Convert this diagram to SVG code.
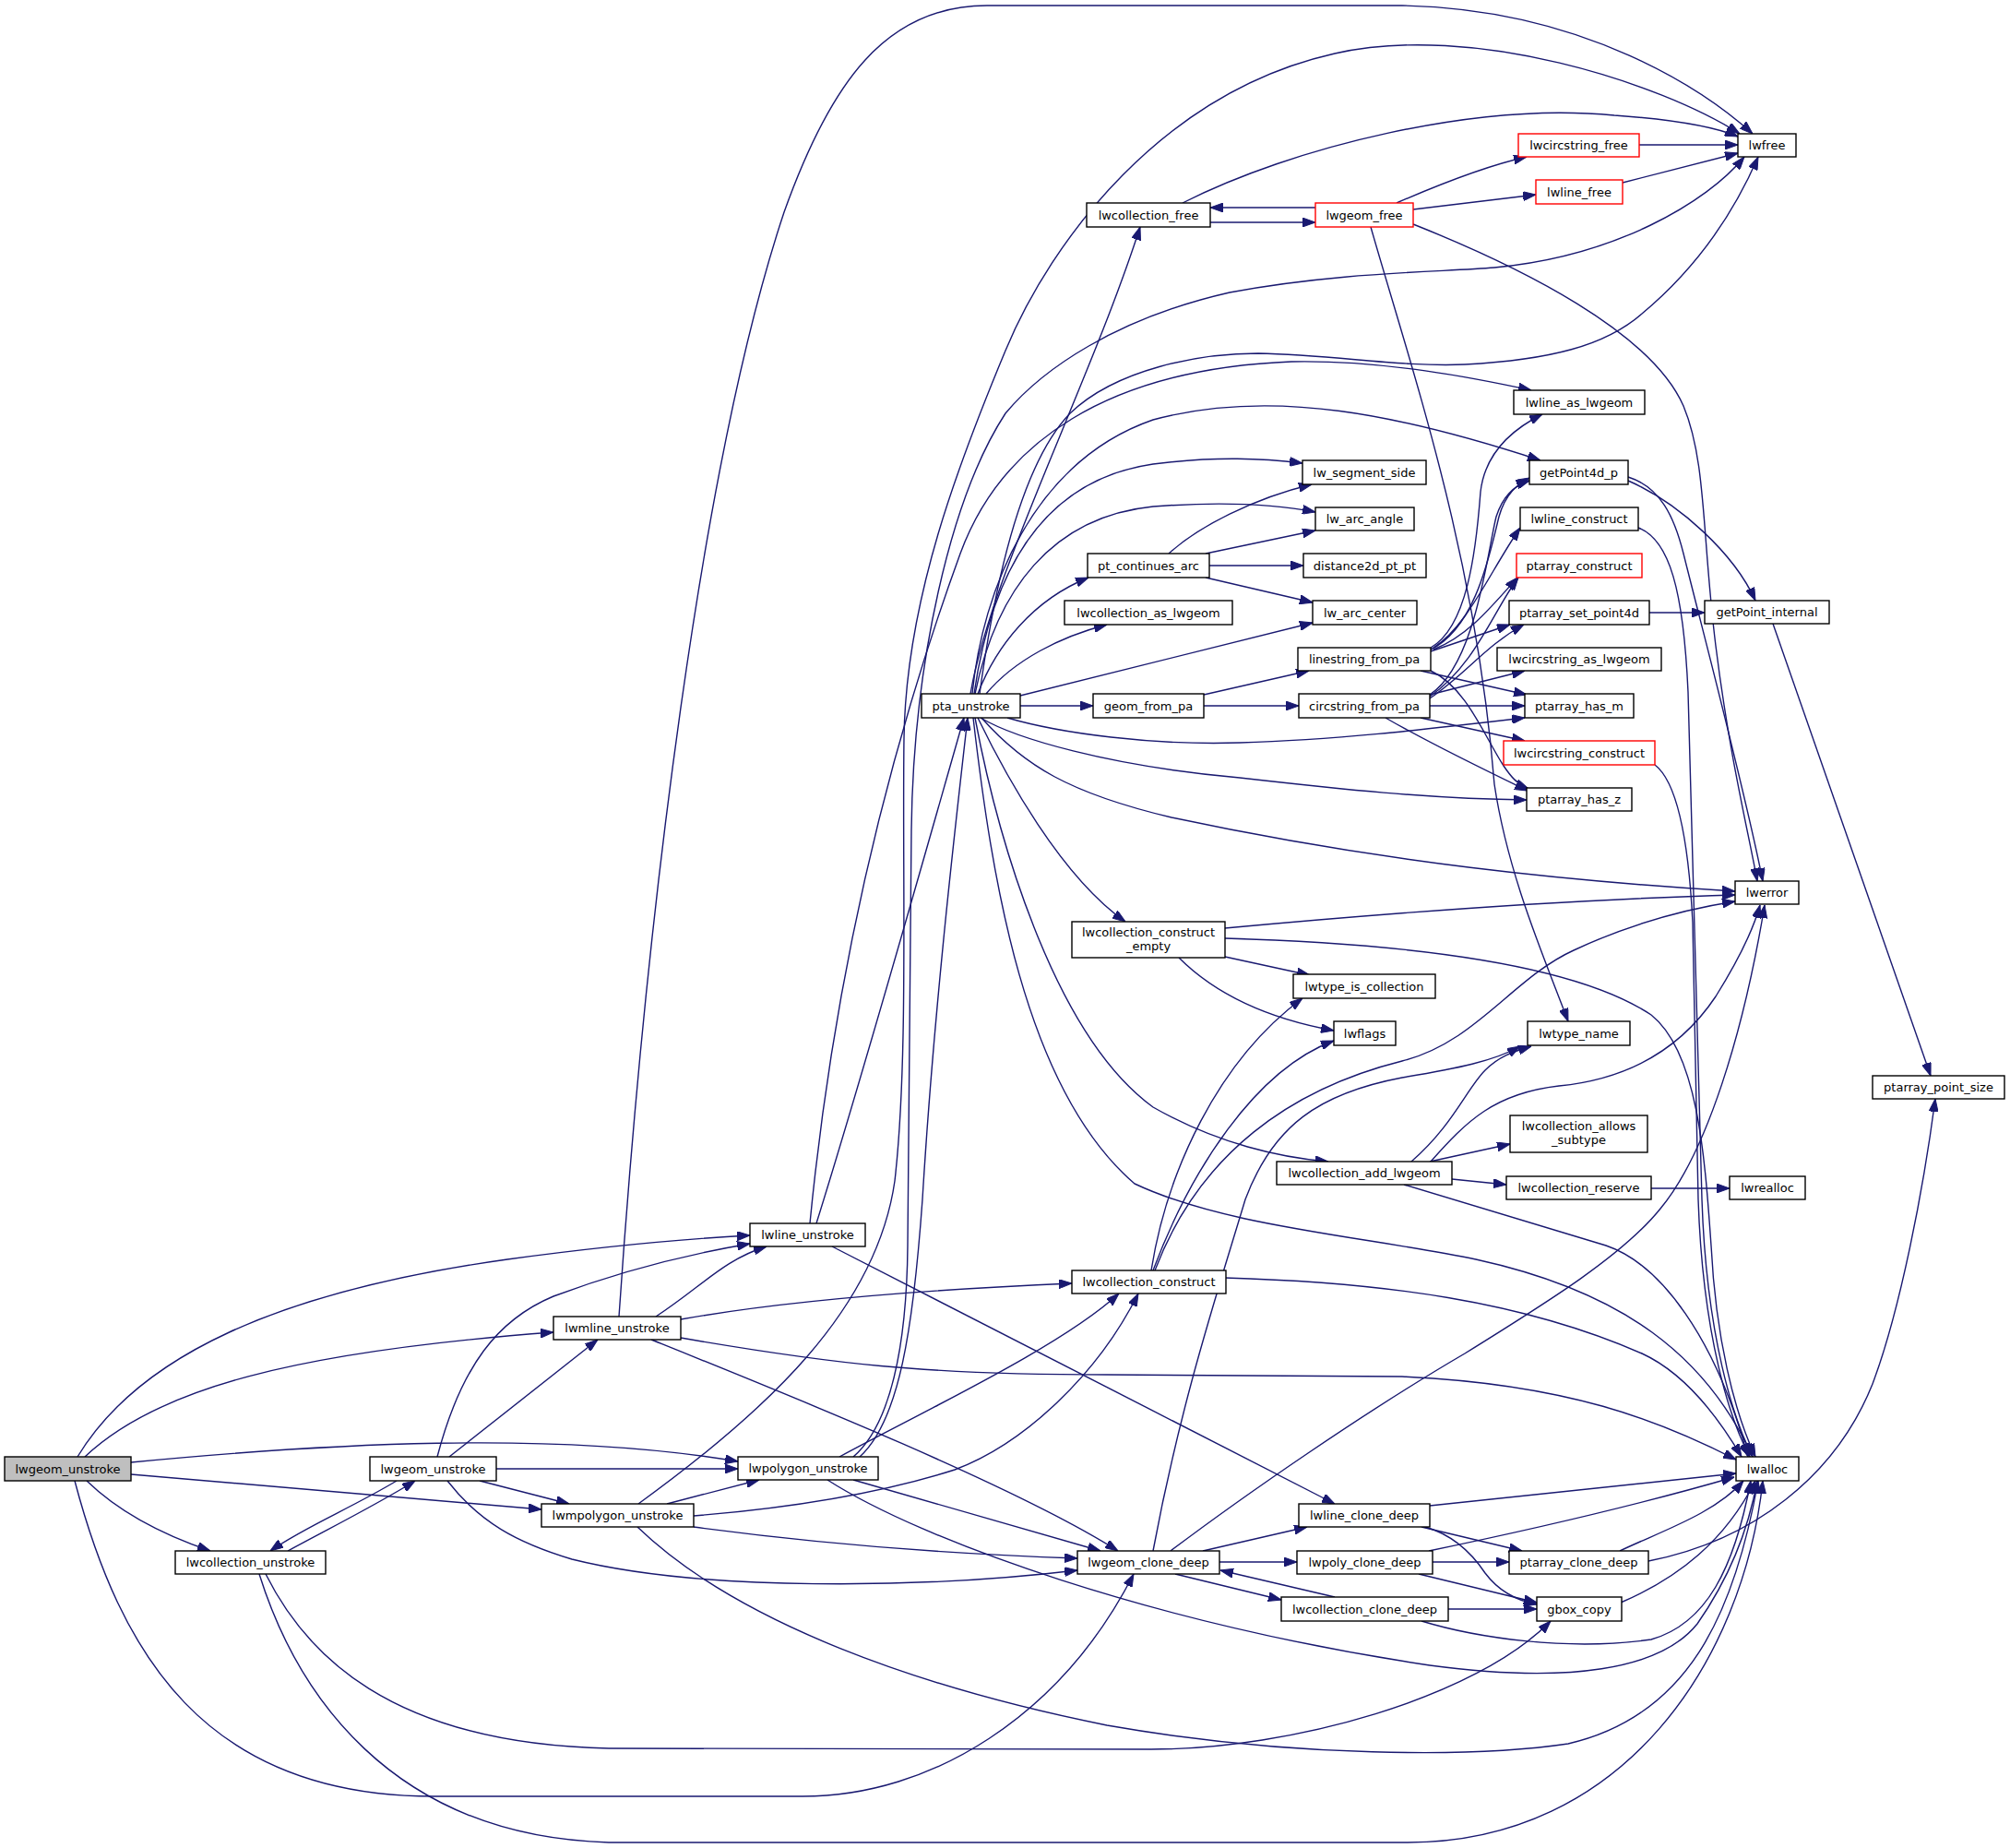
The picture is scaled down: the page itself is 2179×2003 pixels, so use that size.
<svg xmlns="http://www.w3.org/2000/svg" width="2179" height="2003" viewBox="0 0 2179 2003">
<style>
.n rect{fill:#fff;stroke:#000;stroke-width:1.4}
.n.red rect{stroke:#ff0000}
.n.root rect{fill:#bfbfbf}
.n text{font-family:"DejaVu Sans","Liberation Sans",sans-serif;font-size:13px;text-anchor:middle;fill:#000}
#edges path{fill:none;stroke:#191970;stroke-width:1.4;marker-end:url(#a)}
</style>
<defs>
<marker id="a" markerUnits="userSpaceOnUse" markerWidth="14" markerHeight="10" refX="14" refY="5" orient="auto"><path d="M0,0 L14,5 L0,10 z" fill="#191970" stroke="#191970" stroke-width="1"/></marker>
</defs>
<rect width="2179" height="2003" fill="#fff"/>
<g id="edges">
<path d="M84,1579 C150,1470 300,1400 550,1365 C660,1350 740,1343 813,1339"/>
<path d="M92,1579 C170,1505 320,1465 600,1444"/>
<path d="M142,1585 C350,1565 600,1550 800,1584"/>
<path d="M142,1598 L587,1636"/>
<path d="M94,1605 C130,1640 175,1663 228,1681"/>
<path d="M81,1605 C130,1790 220,1947 470,1947 L870,1947 C1010,1947 1150,1860 1229,1706"/>
<path d="M430,1605 C380,1635 330,1655 293,1681"/>
<path d="M312,1681 C360,1655 410,1630 450,1605"/>
<path d="M474,1579 C500,1480 540,1430 600,1405 C680,1375 760,1357 813,1348"/>
<path d="M487,1579 L648,1452"/>
<path d="M538,1592 L800,1592"/>
<path d="M520,1605 L617,1630"/>
<path d="M485,1605 C520,1650 560,1672 620,1690 C760,1725 1000,1722 1168,1702"/>
<path d="M288,1706 C330,1790 420,1890 660,1895 L1248,1896 C1400,1896 1600,1840 1681,1757"/>
<path d="M281,1706 C320,1830 420,1990 660,1997 L1526,1997 C1760,1997 1890,1800 1911,1605"/>
<path d="M711,1427 C760,1395 785,1365 831,1351"/>
<path d="M671,1427 C700,1000 760,500 850,230 C900,90 960,6 1070,6 L1520,6 C1720,10 1850,100 1900,145"/>
<path d="M738,1430 C850,1410 1000,1398 1162,1391"/>
<path d="M738,1450 C900,1478 1000,1490 1200,1490 L1520,1492 C1700,1500 1800,1540 1882,1582"/>
<path d="M706,1452 C850,1510 1100,1610 1212,1681"/>
<path d="M932,1579 C975,1540 990,1440 1000,1300 C1012,1100 1035,900 1049,778"/>
<path d="M925,1579 C965,1545 983,1460 984,1350 L988,900 C990,720 1030,540 1090,448 C1130,400 1210,345 1333,317 C1450,295 1560,295 1620,290 C1750,278 1850,220 1891,170"/>
<path d="M910,1579 C1000,1530 1150,1460 1213,1402"/>
<path d="M925,1604 L1193,1681"/>
<path d="M897,1604 C1000,1670 1250,1760 1550,1805 C1700,1825 1800,1810 1840,1760 C1875,1710 1895,1660 1905,1605"/>
<path d="M723,1630 L823,1604"/>
<path d="M752,1643 C850,1635 950,1620 1035,1593 C1110,1565 1190,1490 1234,1402"/>
<path d="M752,1655 C900,1675 1050,1685 1168,1689"/>
<path d="M691,1655 C800,1760 1000,1830 1200,1870 C1400,1905 1600,1905 1700,1890 C1830,1860 1880,1750 1906,1605"/>
<path d="M692,1630 C830,1530 950,1420 970,1280 C985,1150 978,950 980,800 C982,650 1040,500 1090,380 C1140,260 1260,100 1447,58 C1597,24 1800,90 1886,145"/>
<path d="M885,1326 C940,1150 1010,900 1045,778"/>
<path d="M878,1326 C900,1100 950,850 1041,600 C1085,480 1200,400 1400,392 C1500,390 1600,410 1660,423"/>
<path d="M902,1351 L1447,1630"/>
<path d="M1052,752 C1075,620 1180,420 1236,246"/>
<path d="M1062,752 C1080,620 1110,500 1160,448 C1210,400 1300,383 1364,383 C1450,385 1520,398 1588,395 C1680,390 1740,375 1780,340 C1840,290 1880,230 1906,170"/>
<path d="M1054,752 C1065,640 1120,500 1250,455 C1380,420 1520,450 1670,499"/>
<path d="M1056,752 C1075,620 1130,520 1250,503 C1320,494 1370,497 1412,502"/>
<path d="M1057,752 C1080,640 1140,560 1250,549 C1330,543 1390,548 1426,555"/>
<path d="M1060,752 C1080,700 1120,650 1180,626"/>
<path d="M1069,752 C1100,715 1150,690 1200,677"/>
<path d="M1106,754 L1423,675"/>
<path d="M1106,765 L1185,765"/>
<path d="M1092,778 C1150,795 1250,808 1344,805 C1450,802 1550,790 1653,778"/>
<path d="M1063,778 C1100,800 1200,830 1344,843 C1450,855 1550,866 1655,867"/>
<path d="M1064,778 C1110,830 1160,860 1270,886 C1500,935 1700,955 1881,966"/>
<path d="M1060,778 C1090,840 1150,950 1220,999"/>
<path d="M1057,778 C1080,900 1140,1120 1250,1200 C1320,1240 1390,1255 1440,1259"/>
<path d="M1055,778 C1075,950 1110,1180 1230,1283 C1330,1330 1480,1340 1600,1365 C1760,1400 1850,1470 1900,1579"/>
<path d="M1312,241 L1426,241"/>
<path d="M1426,225 L1312,225"/>
<path d="M1282,220 C1400,160 1600,110 1750,125 C1820,130 1860,138 1884,148"/>
<path d="M1514,220 C1560,200 1610,180 1655,170"/>
<path d="M1532,227 L1665,211"/>
<path d="M1532,243 C1650,290 1790,360 1825,440 C1850,500 1845,580 1860,700 C1875,820 1895,900 1905,955"/>
<path d="M1486,246 C1530,400 1600,600 1620,850 C1635,950 1675,1040 1700,1107"/>
<path d="M1777,157 L1884,157"/>
<path d="M1759,198 L1884,166"/>
<path d="M1305,753 L1419,727"/>
<path d="M1305,765 L1408,765"/>
<path d="M1267,600 C1300,570 1360,540 1422,525"/>
<path d="M1307,600 L1426,575"/>
<path d="M1311,613 L1413,613"/>
<path d="M1307,626 L1423,653"/>
<path d="M1551,702 C1590,680 1600,600 1605,533 C1610,490 1640,465 1672,449"/>
<path d="M1551,704 C1600,680 1615,600 1625,560 C1632,535 1645,525 1658,518"/>
<path d="M1554,702 C1590,680 1615,620 1648,572"/>
<path d="M1554,704 C1590,690 1615,660 1645,626"/>
<path d="M1551,706 L1637,677"/>
<path d="M1540,727 L1655,753"/>
<path d="M1551,727 C1590,745 1610,800 1630,830 C1638,842 1645,850 1657,855"/>
<path d="M1550,753 C1600,720 1612,600 1622,560 C1630,535 1645,525 1658,521"/>
<path d="M1550,755 C1600,720 1620,660 1646,626"/>
<path d="M1550,757 C1590,730 1610,700 1652,677"/>
<path d="M1550,753 L1653,727"/>
<path d="M1550,765 L1653,765"/>
<path d="M1540,778 L1653,803"/>
<path d="M1502,778 C1540,800 1600,830 1656,857"/>
<path d="M1765,521 C1820,545 1880,600 1903,651"/>
<path d="M1765,517 C1800,528 1815,560 1825,600 C1850,700 1890,850 1911,955"/>
<path d="M1788,664 L1848,664"/>
<path d="M1922,676 L2093,1166"/>
<path d="M1776,572 C1810,585 1825,640 1830,750 L1845,1300 C1850,1450 1880,1540 1900,1579"/>
<path d="M1794,829 C1815,845 1830,900 1835,1000 L1841,1300 C1846,1450 1876,1540 1897,1579"/>
<path d="M1328,1006 C1500,990 1700,975 1881,970"/>
<path d="M1328,1017 C1500,1022 1700,1040 1790,1100 C1840,1140 1848,1250 1855,1350 C1860,1450 1880,1530 1903,1579"/>
<path d="M1328,1037 L1420,1057"/>
<path d="M1278,1038 C1320,1080 1380,1105 1446,1117"/>
<path d="M1248,1377 C1265,1270 1320,1150 1412,1082"/>
<path d="M1250,1377 C1290,1270 1360,1160 1446,1128"/>
<path d="M1252,1377 C1300,1250 1400,1180 1520,1150 C1600,1130 1640,1060 1706,1030 C1770,1000 1830,985 1881,977"/>
<path d="M1328,1385 C1500,1390 1650,1410 1780,1467 C1830,1490 1865,1540 1888,1579"/>
<path d="M1530,1259 C1575,1220 1590,1180 1610,1160 C1625,1145 1640,1140 1660,1134"/>
<path d="M1551,1259 C1590,1215 1620,1185 1690,1177 C1760,1170 1820,1140 1860,1080 C1885,1040 1900,1010 1908,981"/>
<path d="M1550,1259 L1637,1240"/>
<path d="M1574,1278 L1633,1284"/>
<path d="M1522,1284 L1741,1350 C1800,1370 1860,1450 1895,1579"/>
<path d="M1790,1288 L1875,1288"/>
<path d="M1304,1681 L1417,1655"/>
<path d="M1322,1693 L1406,1693"/>
<path d="M1274,1706 L1389,1734"/>
<path d="M1447,1731 L1323,1702"/>
<path d="M1269,1681 C1350,1620 1480,1530 1588,1467 C1680,1410 1760,1360 1800,1310 C1850,1250 1890,1120 1913,981"/>
<path d="M1250,1681 C1280,1520 1320,1400 1350,1300 C1380,1220 1430,1185 1520,1168 C1580,1158 1620,1150 1648,1134"/>
<path d="M1541,1655 L1650,1681"/>
<path d="M1545,1655 C1580,1665 1600,1690 1610,1705 C1625,1725 1645,1735 1666,1739"/>
<path d="M1550,1632 L1882,1597"/>
<path d="M1553,1693 L1636,1693"/>
<path d="M1538,1706 L1666,1737"/>
<path d="M1549,1681 C1650,1660 1780,1630 1880,1601"/>
<path d="M1570,1744 L1666,1744"/>
<path d="M1541,1757 C1600,1775 1700,1790 1790,1777 C1850,1760 1880,1700 1898,1605"/>
<path d="M1756,1681 C1800,1660 1860,1640 1890,1605"/>
<path d="M1757,1737 C1820,1710 1870,1670 1903,1605"/>
<path d="M1787,1692 C1900,1670 1990,1600 2030,1500 C2060,1420 2085,1290 2098,1191"/>
</g>
<g id="n_root" class="n root"><rect x="5" y="1579" width="137" height="26"/><text x="73.5" y="1596.5">lwgeom_unstroke</text></g>
<g id="n_lwgeom_unstroke2" class="n"><rect x="401" y="1579" width="137" height="26"/><text x="469.5" y="1596.5">lwgeom_unstroke</text></g>
<g id="n_lwline_unstroke" class="n"><rect x="813" y="1326" width="125" height="25"/><text x="875.5" y="1343">lwline_unstroke</text></g>
<g id="n_lwmline_unstroke" class="n"><rect x="600" y="1427" width="138" height="25"/><text x="669" y="1444">lwmline_unstroke</text></g>
<g id="n_lwpolygon_unstroke" class="n"><rect x="800" y="1579" width="152" height="25"/><text x="876" y="1596">lwpolygon_unstroke</text></g>
<g id="n_lwmpolygon_unstroke" class="n"><rect x="587" y="1630" width="165" height="25"/><text x="669.5" y="1647">lwmpolygon_unstroke</text></g>
<g id="n_lwcollection_unstroke" class="n"><rect x="190" y="1681" width="163" height="25"/><text x="271.5" y="1698">lwcollection_unstroke</text></g>
<g id="n_lwcollection_construct" class="n"><rect x="1162" y="1377" width="167" height="25"/><text x="1245.5" y="1394">lwcollection_construct</text></g>
<g id="n_lwgeom_clone_deep" class="n"><rect x="1168" y="1681" width="154" height="25"/><text x="1245" y="1698">lwgeom_clone_deep</text></g>
<g id="n_lwline_clone_deep" class="n"><rect x="1408" y="1630" width="142" height="25"/><text x="1479" y="1647">lwline_clone_deep</text></g>
<g id="n_lwpoly_clone_deep" class="n"><rect x="1406" y="1681" width="147" height="25"/><text x="1479.5" y="1698">lwpoly_clone_deep</text></g>
<g id="n_lwcollection_clone_deep" class="n"><rect x="1389" y="1731" width="181" height="26"/><text x="1479.5" y="1748.5">lwcollection_clone_deep</text></g>
<g id="n_ptarray_clone_deep" class="n"><rect x="1636" y="1681" width="151" height="25"/><text x="1711.5" y="1698">ptarray_clone_deep</text></g>
<g id="n_gbox_copy" class="n"><rect x="1666" y="1731" width="92" height="26"/><text x="1712" y="1748.5">gbox_copy</text></g>
<g id="n_lwalloc" class="n"><rect x="1882" y="1579" width="68" height="26"/><text x="1916" y="1596.5">lwalloc</text></g>
<g id="n_pta_unstroke" class="n"><rect x="999" y="752" width="107" height="26"/><text x="1052.5" y="769.5">pta_unstroke</text></g>
<g id="n_lwfree" class="n"><rect x="1884" y="145" width="63" height="25"/><text x="1915.5" y="162">lwfree</text></g>
<g id="n_lwcollection_free" class="n"><rect x="1178" y="220" width="134" height="26"/><text x="1245" y="237.5">lwcollection_free</text></g>
<g id="n_lwgeom_free" class="n red"><rect x="1426" y="220" width="106" height="26"/><text x="1479" y="237.5">lwgeom_free</text></g>
<g id="n_lwcircstring_free" class="n red"><rect x="1646" y="145" width="131" height="25"/><text x="1711.5" y="162">lwcircstring_free</text></g>
<g id="n_lwline_free" class="n red"><rect x="1665" y="195" width="94" height="26"/><text x="1712" y="212.5">lwline_free</text></g>
<g id="n_lwline_as_lwgeom" class="n"><rect x="1641" y="423" width="142" height="26"/><text x="1712" y="440.5">lwline_as_lwgeom</text></g>
<g id="n_getPoint4d_p" class="n"><rect x="1658" y="499" width="107" height="26"/><text x="1711.5" y="516.5">getPoint4d_p</text></g>
<g id="n_lw_segment_side" class="n"><rect x="1412" y="499" width="134" height="26"/><text x="1479" y="516.5">lw_segment_side</text></g>
<g id="n_lw_arc_angle" class="n"><rect x="1426" y="550" width="107" height="25"/><text x="1479.5" y="567">lw_arc_angle</text></g>
<g id="n_lwline_construct" class="n"><rect x="1648" y="550" width="128" height="25"/><text x="1712" y="567">lwline_construct</text></g>
<g id="n_pt_continues_arc" class="n"><rect x="1179" y="600" width="132" height="26"/><text x="1245" y="617.5">pt_continues_arc</text></g>
<g id="n_distance2d_pt_pt" class="n"><rect x="1413" y="600" width="133" height="26"/><text x="1479.5" y="617.5">distance2d_pt_pt</text></g>
<g id="n_ptarray_construct" class="n red"><rect x="1644" y="600" width="136" height="26"/><text x="1712" y="617.5">ptarray_construct</text></g>
<g id="n_lw_arc_center" class="n"><rect x="1423" y="651" width="113" height="26"/><text x="1479.5" y="668.5">lw_arc_center</text></g>
<g id="n_lwcollection_as_lwgeom" class="n"><rect x="1154" y="651" width="182" height="26"/><text x="1245" y="668.5">lwcollection_as_lwgeom</text></g>
<g id="n_ptarray_set_point4d" class="n"><rect x="1636" y="651" width="152" height="26"/><text x="1712" y="668.5">ptarray_set_point4d</text></g>
<g id="n_getPoint_internal" class="n"><rect x="1848" y="651" width="135" height="25"/><text x="1915.5" y="668">getPoint_internal</text></g>
<g id="n_linestring_from_pa" class="n"><rect x="1407" y="702" width="144" height="25"/><text x="1479" y="719">linestring_from_pa</text></g>
<g id="n_lwcircstring_as_lwgeom" class="n"><rect x="1623" y="702" width="178" height="25"/><text x="1712" y="719">lwcircstring_as_lwgeom</text></g>
<g id="n_geom_from_pa" class="n"><rect x="1185" y="752" width="120" height="26"/><text x="1245" y="769.5">geom_from_pa</text></g>
<g id="n_circstring_from_pa" class="n"><rect x="1408" y="752" width="142" height="26"/><text x="1479" y="769.5">circstring_from_pa</text></g>
<g id="n_ptarray_has_m" class="n"><rect x="1653" y="752" width="118" height="26"/><text x="1712" y="769.5">ptarray_has_m</text></g>
<g id="n_lwcircstring_construct" class="n red"><rect x="1630" y="803" width="164" height="26"/><text x="1712" y="820.5">lwcircstring_construct</text></g>
<g id="n_ptarray_has_z" class="n"><rect x="1655" y="854" width="114" height="25"/><text x="1712" y="871">ptarray_has_z</text></g>
<g id="n_lwerror" class="n"><rect x="1881" y="955" width="69" height="25"/><text x="1915.5" y="972">lwerror</text></g>
<g id="n_lwcollection_construct_empty" class="n"><rect x="1162" y="999" width="166" height="39"/><text x="1245" y="1015">lwcollection_construct</text><text x="1245" y="1030">_empty</text></g>
<g id="n_lwtype_is_collection" class="n"><rect x="1402" y="1056" width="154" height="26"/><text x="1479" y="1073.5">lwtype_is_collection</text></g>
<g id="n_lwflags" class="n"><rect x="1446" y="1107" width="67" height="26"/><text x="1479.5" y="1124.5">lwflags</text></g>
<g id="n_lwtype_name" class="n"><rect x="1656" y="1107" width="111" height="26"/><text x="1711.5" y="1124.5">lwtype_name</text></g>
<g id="n_ptarray_point_size" class="n"><rect x="2030" y="1166" width="143" height="25"/><text x="2101.5" y="1183">ptarray_point_size</text></g>
<g id="n_lwcollection_allows_subtype" class="n"><rect x="1637" y="1209" width="149" height="40"/><text x="1711.5" y="1225">lwcollection_allows</text><text x="1711.5" y="1240">_subtype</text></g>
<g id="n_lwcollection_add_lwgeom" class="n"><rect x="1384" y="1259" width="190" height="25"/><text x="1479" y="1276">lwcollection_add_lwgeom</text></g>
<g id="n_lwcollection_reserve" class="n"><rect x="1633" y="1275" width="157" height="25"/><text x="1711.5" y="1292">lwcollection_reserve</text></g>
<g id="n_lwrealloc" class="n"><rect x="1875" y="1275" width="82" height="25"/><text x="1916" y="1292">lwrealloc</text></g>
</svg>
